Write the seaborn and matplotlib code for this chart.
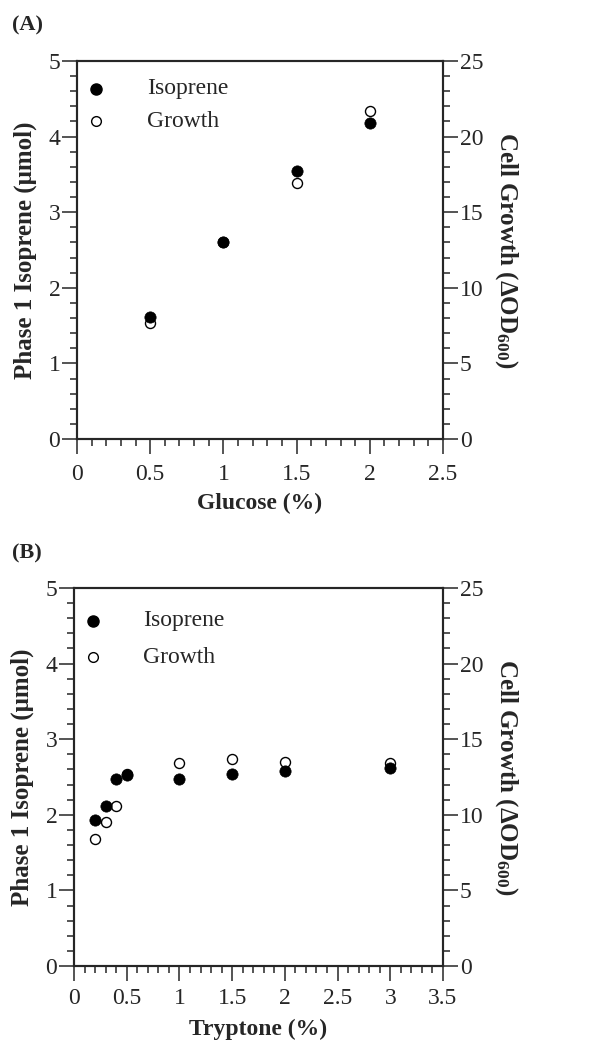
import numpy as np
import pandas as pd
import matplotlib
matplotlib.use("Agg")
import matplotlib.pyplot as plt
import seaborn as sns
from matplotlib.ticker import MultipleLocator, FuncFormatter

# ---- data ----
glucose = [0.5, 1.0, 1.5, 2.0]
glucose_isoprene = [1.62, 2.60, 3.54, 4.18]
glucose_growth = [7.7, 13.0, 16.9, 21.7]

tryptone = [0.2, 0.3, 0.4, 0.5, 1.0, 1.5, 2.0, 3.0]
tryptone_isoprene = [1.93, 2.12, 2.47, 2.53, 2.48, 2.54, 2.58, 2.62]
tryptone_growth = [8.4, 9.5, 10.6, 12.7, 13.4, 13.7, 13.5, 13.4]

x_labels = ["Glucose (%)", "Tryptone (%)"]
panel_labels = ["(A)", "(B)"]
x_max = [2.5, 3.5]

sns.set_style("ticks")
plt.rcParams['font.family'] = ['Liberation Serif', 'DejaVu Serif']
plt.rcParams['mathtext.fontset'] = 'custom'
plt.rcParams['mathtext.rm'] = 'Liberation Serif'
plt.rcParams['mathtext.bf'] = 'Liberation Serif:bold'
plt.rcParams['mathtext.default'] = 'bf'

fig = plt.figure(figsize=(5.92, 10.45), dpi=100)
W, H = 592, 1045
boxes = [(77, 61, 443, 439), (74, 588, 443, 966)]
datasets = [(glucose, glucose_isoprene, glucose_growth),
            (tryptone, tryptone_isoprene, tryptone_growth)]
panel_y = [25, 553]
legend_y = [(0.926, 0.841), (0.913, 0.817)]
legend_x = [(0.052, 0.191), (0.051, 0.187)]
xtick_pad = [7, 5]
xlabel_pad = [6, 7]

for i in range(2):
    l, t, r, b = boxes[i]
    ax = fig.add_axes([l / W, 1 - b / H, (r - l) / W, (b - t) / H])
    ax2 = ax.twinx()
    xs, iso, gr = datasets[i]
    df = pd.DataFrame({"x": xs, "iso": iso, "gr": gr})
    sns.scatterplot(data=df, x="x", y="gr", ax=ax2, marker="o", s=52,
                    facecolor="white", edgecolor="black", linewidth=1.0, zorder=2)
    sns.scatterplot(data=df, x="x", y="iso", ax=ax, marker="o", s=66,
                    color="black", edgecolor="black", linewidth=0.5, zorder=3)
    ax.set_zorder(ax2.get_zorder() + 1)
    ax.patch.set_visible(False)

    ax.set_xlim(0, x_max[i])
    ax.set_ylim(0, 5)
    ax2.set_ylim(0, 25)
    ax.xaxis.set_major_locator(MultipleLocator(0.5))
    ax.xaxis.set_minor_locator(MultipleLocator(0.1))
    ax.yaxis.set_major_locator(MultipleLocator(1))
    ax.yaxis.set_minor_locator(MultipleLocator(0.2))
    ax2.yaxis.set_major_locator(MultipleLocator(5))
    ax2.yaxis.set_minor_locator(MultipleLocator(1))
    ax.xaxis.set_major_formatter(FuncFormatter(lambda v, p: f"{v:g}"))

    for a in (ax, ax2):
        for s in a.spines.values():
            s.set_linewidth(1.5)
            s.set_visible(True)
        a.tick_params(which="major", direction="out", length=11, width=1.1,
                      labelsize=17, pad=1)
        a.tick_params(which="minor", direction="out", length=5, width=1.1)
    ax.tick_params(axis="x", which="major", pad=xtick_pad[i])

    ax.set_xlabel(x_labels[i], fontsize=17, fontweight="bold", labelpad=xlabel_pad[i])
    ax.set_ylabel("Phase 1 Isoprene (\u03bcmol)", fontsize=18, fontweight="bold", labelpad=8)
    ax2.set_ylabel("Cell Growth (\u0394OD$_{600}$)", fontsize=18, fontweight="bold",
                   rotation=270, labelpad=26)

    # legend
    mx, tx = legend_x[i]
    y1, y2 = legend_y[i]
    ax.plot([mx], [y1], "o", ms=8.0, color="black", transform=ax.transAxes, clip_on=False)
    ax.plot([mx], [y2], "o", ms=7.0, mfc="white", mec="black", mew=1.0,
            transform=ax.transAxes, clip_on=False)
    ax.text(tx, y1, "Isoprene", transform=ax.transAxes, fontsize=17, va="center")
    ax.text(tx, y2, "Growth", transform=ax.transAxes, fontsize=17, va="center")

    fig.text(12 / W, 1 - panel_y[i] / H, panel_labels[i], fontsize=16, fontweight="bold",
             va="center", ha="left")

fig.savefig("out.png", dpi=100)
